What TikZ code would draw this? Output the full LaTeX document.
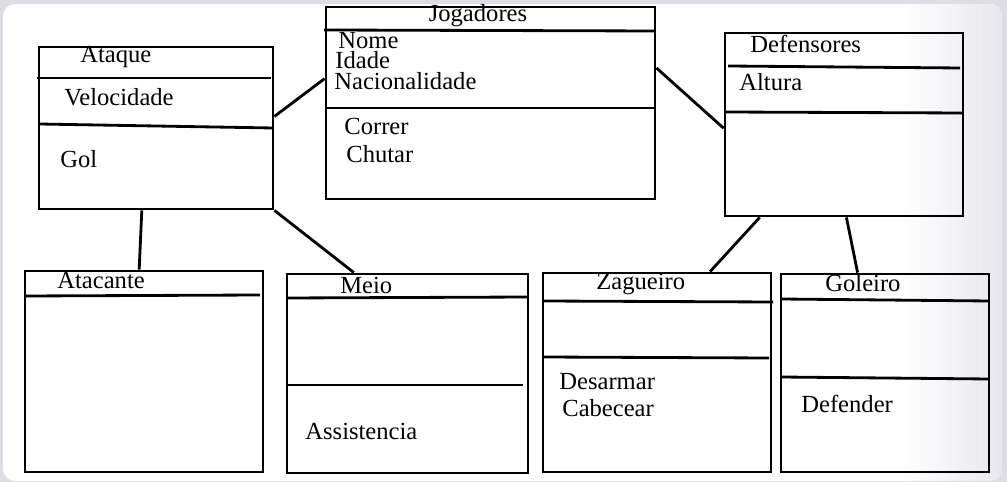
\documentclass[tikz,border=0pt]{standalone}
\usepackage{fontspec}
\setmainfont{Liberation Serif}
\usetikzlibrary{calc, fit, positioning}
\definecolor{framegray}{RGB}{221,221,229}
\definecolor{inkblack}{RGB}{0,0,0}

\begin{document}
\begin{tikzpicture}[
    x=0.02cm, y=-0.02cm,
    classbox/.style={draw=inkblack, line width=1.6pt, inner sep=0pt},
    divider/.style={inkblack, line width=1.6pt},
    link/.style={inkblack, line width=1.6pt},
    label/.style={anchor=west, inner sep=0pt, font=\fontsize{14}{16}\selectfont},
]
\useasboundingbox (0,0) rectangle (1007,482);

% Fundo
\fill[framegray] (0,0) rectangle (1007,482);
\begin{scope}
    \clip[rounded corners=7] (3,4) rectangle (1002,481);
    \fill[white] (3,4) rectangle (1002,481);
    \shade[left color=white, right color=framegray!70] (900,4) rectangle (1002,481);
\end{scope}

% === CLASSES ===
\node[classbox, fit={(39,47) (273,209)}] (ataque) {};
\node[classbox, fit={(326,7) (655,199)}] (jogadores) {};
\node[classbox, fit={(725,33) (963,216)}] (defensores) {};
\node[classbox, fit={(25,271) (263,472)}] (atacante) {};
\node[classbox, fit={(287,274) (528,473)}] (meio) {};
\node[classbox, fit={(543,273) (771,472)}] (zagueiro) {};
\node[classbox, fit={(781,274) (989,472)}] (goleiro) {};

% Divisorias
\draw[divider] (37,78) -- (271,78);
\draw[divider] (39,124) -- (273,128);
\draw[divider] (324,30) -- (655,31);
\draw[divider] (326,108) -- (655,108);
\draw[divider] (728,66) -- (960,68);
\draw[divider] (725,112) -- (963,113);
\draw[divider] (25,296) -- (260,295);
\draw[divider] (287,298) -- (528,297);
\draw[divider] (287,385) -- (523,385);
\draw[divider] (543,301) -- (773,302);
\draw[divider] (543,357) -- (769,358);
\draw[divider] (781,299) -- (989,301);
\draw[divider] (781,377) -- (989,379);

% Textos
\node[label] (tAtaque) at (80,57) {Ataque};
\node[label] (tVelocidade) at (64,97) {Velocidade};
\node[label] (tGol) at (60,159) {Gol};

\node[label, anchor=center] (tJogadores) at (478,16) {Jogadores};
\node[label] (tNome) at (338,41) {Nome};
\node[label] (tIdade) at (335,60) {Idade};
\node[label] (tNacionalidade) at (334,81) {Nacionalidade};
\node[label] (tCorrer) at (344,126) {Correr};
\node[label] (tChutar) at (346,154) {Chutar};

\node[label] (tDefensores) at (750,44) {Defensores};
\node[label] (tAltura) at (739,82) {Altura};

\node[label] (tAtacante) at (57,281) {Atacante};

\node[label] (tMeio) at (340,285) {Meio};
\node[label] (tAssistencia) at (305,431) {Assistencia};

\node[label] (tZagueiro) at (596,284) {Zagueiro};
\node[label] (tDesarmar) at (559,382) {Desarmar};
\node[label] (tCabecear) at (562,408) {Cabecear};

\node[label] (tGoleiro) at (825,283) {Goleiro};
\node[label] (tDefender) at (801,404) {Defender};

% === LIGACOES ===
\draw[link] ($(ataque.north east)!0.43!(ataque.south east)$) -- ($(jogadores.north west)!0.375!(jogadores.south west)$);
\draw[link] ($(ataque.south west)!0.44!(ataque.south east)$) -- ($(atacante.north west)!0.48!(atacante.north east)$);
\draw[link] (ataque.south east) -- ($(meio.north west)!0.28!(meio.north east)$);
\draw[link] ($(jogadores.north east)!0.32!(jogadores.south east)$) -- ($(defensores.north west)!0.52!(defensores.south west)$);
\draw[link] ($(defensores.south west)!0.15!(defensores.south east)$) -- ($(zagueiro.north west)!0.73!(zagueiro.north east)$);
\draw[link] ($(defensores.south west)!0.51!(defensores.south east)$) -- ($(goleiro.north west)!0.37!(goleiro.north east)$);

\end{tikzpicture}
\end{document}
